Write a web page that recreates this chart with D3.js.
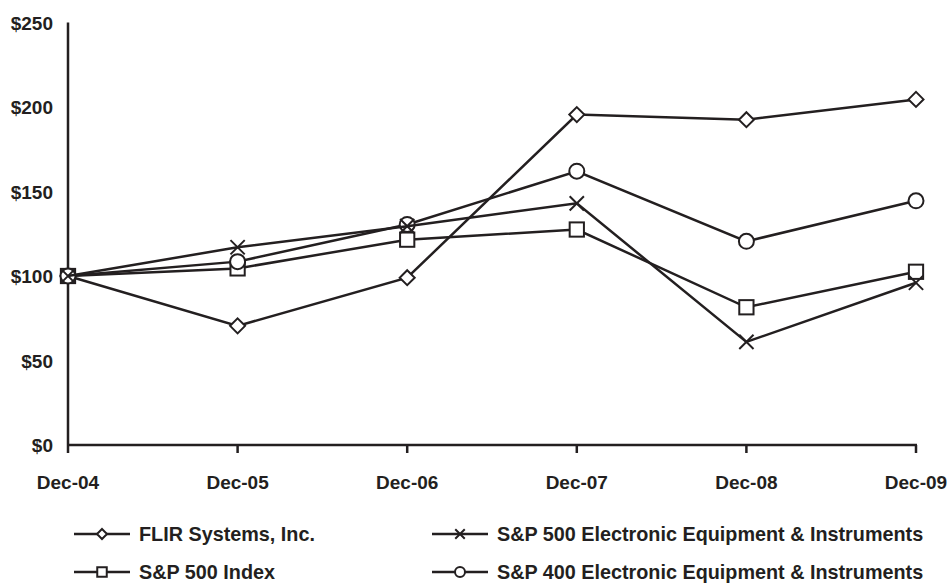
<html>
<script src="https://d3js.org/d3.v7.min.js"></script>
<style>
  body { margin: 0; background: #fff; }
  text { font-family: "Liberation Sans", Arial, Helvetica, sans-serif; font-weight: bold; fill: #231f20; }
</style>
<body>
<svg id="chart" width="951" height="583"></svg>
<script>
// chart data
var periods = ["Dec-04", "Dec-05", "Dec-06", "Dec-07", "Dec-08", "Dec-09"];
var flir    = [100, 70.5, 99, 195.5, 192.5, 204.5];
var spEE500 = [100, 117, 129.5, 143, 61, 96];
var sp500   = [100, 104.5, 121.5, 127.5, 81.5, 102.5];
var spEE400 = [100, 108.5, 130.5, 162, 120.5, 144.5];
var yTicks  = [0, 50, 100, 150, 200, 250];

var series = [
  {name: "FLIR Systems, Inc.", values: flir, marker: "diamond"},
  {name: "S&P 500 Index", values: sp500, marker: "square"},
  {name: "S&P 400 Electronic Equipment & Instruments", values: spEE400, marker: "circle"},
  {name: "S&P 500 Electronic Equipment & Instruments", values: spEE500, marker: "cross"}
];

var ink = "#231f20";
var svg = d3.select("#chart");

var x = d3.scalePoint().domain(periods).range([68, 916]);
var y = d3.scaleLinear().domain([0, 250]).range([445, 22.5]);

// axes
svg.append("line").attr("x1", 68).attr("x2", 68).attr("y1", y(250)).attr("y2", y(0))
  .attr("stroke", ink).attr("stroke-width", 2.5);
svg.append("line").attr("x1", 67).attr("x2", 917).attr("y1", y(0)).attr("y2", y(0))
  .attr("stroke", ink).attr("stroke-width", 2.5);
svg.selectAll(".xtick").data(periods).enter().append("line")
  .attr("x1", d => x(d)).attr("x2", d => x(d))
  .attr("y1", y(0)).attr("y2", y(0) + 8)
  .attr("stroke", ink).attr("stroke-width", 2.5);

svg.selectAll(".ylab").data(yTicks).enter().append("text")
  .attr("x", 53).attr("y", d => y(d) + 7)
  .attr("text-anchor", "end").attr("font-size", 19)
  .text(d => "$" + d);

svg.selectAll(".xlab").data(periods).enter().append("text")
  .attr("x", d => x(d)).attr("y", 489)
  .attr("text-anchor", "middle").attr("font-size", 19)
  .text(d => d);

function drawMarker(g, type, cx, cy, s) {
  if (type == "diamond") {
    g.append("path").attr("d", "M" + cx + "," + (cy - s) + "L" + (cx + s) + "," + cy + "L" + cx + "," + (cy + s) + "L" + (cx - s) + "," + cy + "Z")
      .attr("fill", "#fff").attr("stroke", ink).attr("stroke-width", 2);
  } else if (type == "square") {
    var h = s * 0.95;
    g.append("rect").attr("x", cx - h).attr("y", cy - h).attr("width", 2 * h).attr("height", 2 * h)
      .attr("fill", "#fff").attr("stroke", ink).attr("stroke-width", 2);
  } else if (type == "circle") {
    g.append("circle").attr("cx", cx).attr("cy", cy).attr("r", s)
      .attr("fill", "#fff").attr("stroke", ink).attr("stroke-width", 2);
  } else {
    var h = s * 0.95;
    g.append("path").attr("d", "M" + (cx - h) + "," + (cy - h) + "L" + (cx + h) + "," + (cy + h) + "M" + (cx + h) + "," + (cy - h) + "L" + (cx - h) + "," + (cy + h))
      .attr("fill", "none").attr("stroke", ink).attr("stroke-width", 2);
  }
}

var line = d3.line().x((d, i) => x(periods[i])).y(d => y(d));

series.forEach(function(s) {
  var g = svg.append("g");
  g.append("path").attr("d", line(s.values))
    .attr("fill", "none").attr("stroke", ink).attr("stroke-width", 2.5);
  s.values.forEach(function(v, i) {
    drawMarker(g, s.marker, x(periods[i]), y(v), 7.5);
  });
});

// legend
var legend = [
  {name: series[0].name, marker: "diamond", lx: 74, ly: 534},
  {name: series[3].name, marker: "cross", lx: 432, ly: 534},
  {name: series[1].name, marker: "square", lx: 74, ly: 572},
  {name: series[2].name, marker: "circle", lx: 432, ly: 572}
];
legend.forEach(function(l) {
  var g = svg.append("g");
  g.append("line").attr("x1", l.lx).attr("x2", l.lx + 56).attr("y1", l.ly).attr("y2", l.ly)
    .attr("stroke", ink).attr("stroke-width", 2.5);
  drawMarker(g, l.marker, l.lx + 28, l.ly, 5);
  g.append("text").attr("x", l.lx + 65).attr("y", l.ly + 7).attr("font-size", 19.8).text(l.name);
});
</script>
</body>
</html>
